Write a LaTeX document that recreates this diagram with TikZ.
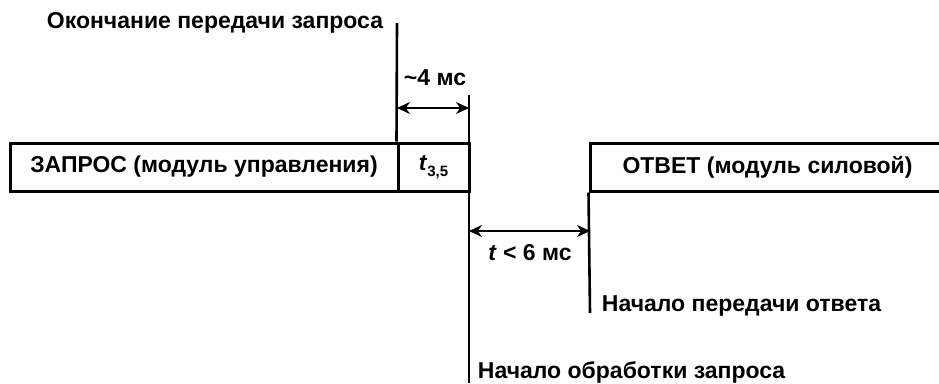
\documentclass[tikz,border=0pt]{standalone}
\usepackage{fontspec}
\setmainfont{Liberation Sans}
\usetikzlibrary{arrows.meta}

\tikzset{
  lbl/.style={inner sep=0.75pt,font=\fontsize{23}{27}\selectfont\bfseries},
  frame/.style={draw,line width=3pt,minimum height=48pt,inner sep=0pt,font=\fontsize{23}{27}\selectfont\bfseries},
  vline/.style={line width=2.6pt},
  span/.style={line width=2.6pt,{Stealth[length=13pt,width=12pt]}-{Stealth[length=13pt,width=12pt]}}
}
\newcommand{\tsub}[1]{\textit{t}\raisebox{-0.45ex}{\fontsize{15}{17}\selectfont #1}}

\begin{document}
\begin{tikzpicture}[x=1pt,y=1pt,yscale=-1,xscale=1]
\useasboundingbox (0,0) rectangle (939,383);

%Shape: Rectangle [id:req]
\node[frame,minimum width=388pt] (req) at (204,167) {ЗАПРОС (модуль управления)};
%Shape: Rectangle [id:t35]
\node[frame,minimum width=71pt] (t35) at (433.5,167) {\tsub{3,5}};
%Shape: Rectangle [id:resp]
\node[frame,minimum width=355pt] (resp) at (767.5,167) {ОТВЕТ (модуль силовой)};

%Coordinates for line ends
\coordinate (endtop) at (397,23);
\coordinate (proctop) at (469,95);
\coordinate (procbot) at (469,383);
\coordinate (ansbot) at (590,313);
\coordinate (ta) at (397,108);
\coordinate (tb) at (469,108);
\coordinate (wa) at (469,231);
\coordinate (wb) at (590,231);

%Straight Lines [id:marks]
\draw[vline] (endtop) -- (t35.north west);
\draw[vline] (proctop) -- (procbot);
\draw[vline] (resp.south west) -- (ansbot);

%Straight Lines [id:spans]
\draw[span] (ta) -- (tb);
\draw[span] (wa) -- (wb);

% Text Node
\node[lbl,anchor=east] (endtxt) at (384,23) {Окончание передачи запроса};
% Text Node
\node[lbl] (gap) at (435,78) {\textasciitilde 4 мс};
% Text Node
\node[lbl] (resptime) at (530,253) {\textit{t} < 6 мс};
% Text Node
\node[lbl,anchor=west] (anstxt) at (601,306) {Начало передачи ответа};
% Text Node
\node[lbl,anchor=west] (proctxt) at (477,372) {Начало обработки запроса};

\end{tikzpicture}
\end{document}
